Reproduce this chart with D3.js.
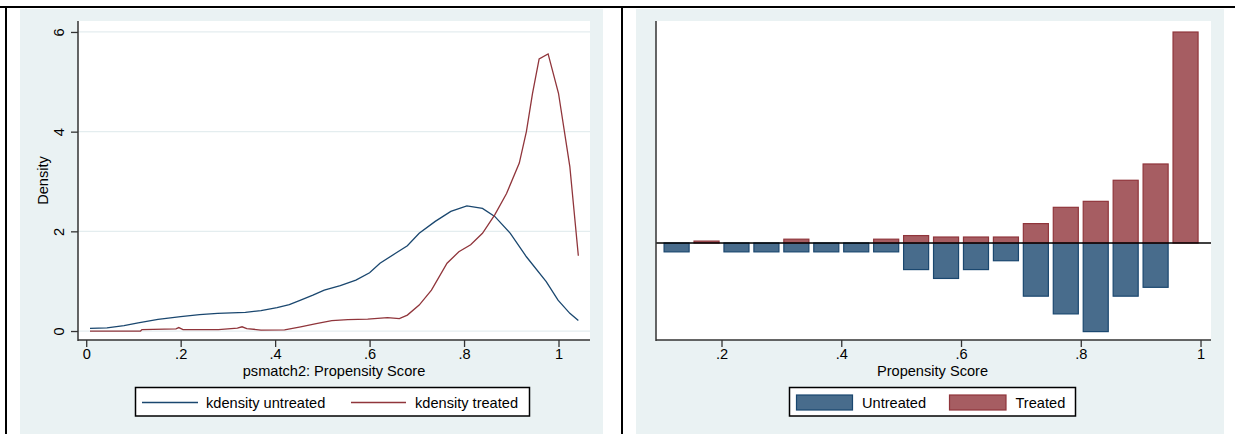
<!DOCTYPE html>
<html>
<head>
<meta charset="utf-8">
<script src="https://cdn.jsdelivr.net/npm/d3@7"></script>
<style>
  html, body { margin: 0; padding: 0; background: #ffffff; }
  svg { display: block; }
  text { font-family: "Liberation Sans", Arial, sans-serif; fill: #000; }
</style>
</head>
<body>
<svg id="chart" width="1235" height="434"></svg>
<script>
// ---------- DATA ----------
// Left panel: kernel densities of propensity score
const untreatedX = [0.008,0.044,0.08,0.11,0.152,0.2,0.24,0.278,0.337,0.37,0.404,0.43,0.454,0.48,0.504,0.538,0.571,0.6,0.622,0.655,0.68,0.705,0.739,0.772,0.806,0.839,0.865,0.898,0.932,0.974,0.999,1.024,1.042];
const untreatedY = [0.055,0.065,0.11,0.165,0.235,0.29,0.33,0.355,0.375,0.41,0.47,0.53,0.62,0.72,0.82,0.91,1.02,1.17,1.36,1.56,1.71,1.96,2.2,2.4,2.51,2.46,2.3,1.96,1.49,0.99,0.62,0.355,0.21];
const treatedX = [0.008,0.115,0.118,0.19,0.196,0.205,0.28,0.32,0.33,0.34,0.37,0.42,0.454,0.487,0.52,0.554,0.596,0.638,0.663,0.68,0.705,0.731,0.764,0.789,0.814,0.839,0.865,0.89,0.917,0.932,0.945,0.959,0.978,1.0,1.024,1.042];
const treatedY = [0,0,0.03,0.045,0.07,0.03,0.03,0.06,0.085,0.05,0.02,0.025,0.085,0.15,0.21,0.23,0.24,0.27,0.25,0.32,0.52,0.82,1.36,1.59,1.73,1.96,2.33,2.76,3.37,4.0,4.77,5.46,5.56,4.77,3.3,1.51];
const densityTicks = [0, 2, 4, 6];
const densityXTicks = [0, 0.2, 0.4, 0.6, 0.8, 1];
const densityXTickLabels = ["0", ".2", ".4", ".6", ".8", "1"];

// Right panel: histogram (density) by bin midpoint, untreated drawn below zero
const binMid = [0.125,0.175,0.225,0.275,0.325,0.375,0.425,0.475,0.525,0.575,0.625,0.675,0.725,0.775,0.825,0.875,0.925,0.975];
const treatedHist = [0,0.08,0,0,0.16,0,0,0.16,0.31,0.25,0.25,0.25,0.81,1.49,1.74,2.62,3.30,8.81];
const untreatedHist = [0.37,0,0.37,0.37,0.37,0.37,0.37,0.37,1.11,1.48,1.11,0.74,2.22,2.96,3.70,2.22,1.85,0];
const histXTicks = [0.2, 0.4, 0.6, 0.8, 1];
const histXTickLabels = [".2", ".4", ".6", ".8", "1"];
const binWidth = 0.05;

// Text
const leftXTitle = "psmatch2: Propensity Score";
const leftYTitle = "Density";
const leftLegend = ["kdensity untreated", "kdensity treated"];
const rightXTitle = "Propensity Score";
const rightLegend = ["Untreated", "Treated"];

// ---------- STYLE ----------
const BG = "#EAF2F3";
const NAVY = "#1A476F", MAROON = "#90353B";
const NAVY_FILL = "#486C8C", MAROON_FILL = "#A65D62";
const FS = "14.6px";

const svg = d3.select("#chart");

// Outer frame
svg.append("rect").attr("x", 0).attr("y", 0).attr("width", 1235).attr("height", 434).attr("fill", "#fff");
svg.append("rect").attr("x", 20).attr("y", 9).attr("width", 583).attr("height", 425).attr("fill", BG);
svg.append("rect").attr("x", 636).attr("y", 9).attr("width", 588).attr("height", 425).attr("fill", BG);
svg.append("line").attr("x1", 0).attr("x2", 1235).attr("y1", 7).attr("y2", 7).attr("stroke", "#000").attr("stroke-width", 2);
svg.append("line").attr("x1", 6).attr("x2", 6).attr("y1", 6).attr("y2", 434).attr("stroke", "#000").attr("stroke-width", 2);
svg.append("line").attr("x1", 622).attr("x2", 622).attr("y1", 6).attr("y2", 434).attr("stroke", "#000").attr("stroke-width", 2);

// ---------- LEFT PANEL ----------
(function () {
  const L = 78, R = 590, T = 21, B = 340;
  const x = d3.scaleLinear().domain([-0.0174, 1.0667]).range([L, R]);
  const y = d3.scaleLinear().domain([-0.18, 6.22]).range([B, T]);
  const g = svg.append("g");
  g.append("rect").attr("x", L).attr("y", T).attr("width", R - L).attr("height", B - T).attr("fill", "#fff");
  // gridlines
  g.selectAll(".grid").data(densityTicks).join("line")
    .attr("x1", L).attr("x2", R).attr("y1", d => y(d)).attr("y2", d => y(d))
    .attr("stroke", "#E4EDEF").attr("stroke-width", 1.2);

  // y axis
  const ya = g.append("g").attr("transform", `translate(${L},0)`)
    .call(d3.axisLeft(y).tickValues(densityTicks).tickSize(7).tickFormat(d3.format("d")));
  ya.select(".domain").attr("d", `M0,${T}V${B + 1}`).attr("stroke", "#333").attr("stroke-width", 1.5);
  ya.selectAll(".tick line").attr("stroke", "#333").attr("stroke-width", 1.3);
  ya.selectAll(".tick text").attr("x", null).attr("dy", null)
    .attr("text-anchor", "middle")
    .attr("transform", "translate(-14,0) rotate(-90)")
    .style("font-size", FS).style("font-family", "Liberation Sans, Arial, sans-serif").attr("fill", "#000");

  // x axis
  const xa = g.append("g").attr("transform", `translate(0,${B})`)
    .call(d3.axisBottom(x).tickValues(densityXTicks).tickSize(7).tickFormat((d, i) => densityXTickLabels[i]));
  xa.select(".domain").attr("d", `M${L},0H${R}`).attr("stroke", "#333").attr("stroke-width", 1.5);
  xa.selectAll(".tick line").attr("stroke", "#333").attr("stroke-width", 1.3);
  xa.selectAll(".tick text").attr("y", 18.5).attr("dy", null)
    .style("font-size", FS).style("font-family", "Liberation Sans, Arial, sans-serif").attr("fill", "#000");

  // titles
  g.append("text").attr("x", (L + R) / 2).attr("y", 376).attr("text-anchor", "middle")
    .style("font-size", FS).text(leftXTitle);
  g.append("text").attr("transform", `translate(48,${(T + B) / 2}) rotate(-90)`).attr("text-anchor", "middle")
    .style("font-size", FS).text(leftYTitle);

  // curves
  const line = d3.line().x(d => x(d[0])).y(d => y(d[1]));
  const uData = untreatedX.map((v, i) => [v, untreatedY[i]]);
  const tData = treatedX.map((v, i) => [v, treatedY[i]]);
  g.append("path").datum(uData).attr("d", line).attr("fill", "none").attr("stroke", NAVY).attr("stroke-width", 1.3);
  g.append("path").datum(tData).attr("d", line).attr("fill", "none").attr("stroke", MAROON).attr("stroke-width", 1.3);

  // legend
  const lg = g.append("g");
  lg.append("rect").attr("x", 135.5).attr("y", 387.5).attr("width", 394).attr("height", 28.5)
    .attr("fill", "#fff").attr("stroke", "#000").attr("stroke-width", 1.5);
  lg.append("line").attr("x1", 142).attr("x2", 198).attr("y1", 402.5).attr("y2", 402.5).attr("stroke", NAVY).attr("stroke-width", 1.3);
  lg.append("text").attr("x", 206).attr("y", 407.8).style("font-size", FS).text(leftLegend[0]);
  lg.append("line").attr("x1", 351).attr("x2", 406).attr("y1", 402.5).attr("y2", 402.5).attr("stroke", MAROON).attr("stroke-width", 1.3);
  lg.append("text").attr("x", 415).attr("y", 407.8).style("font-size", FS).text(leftLegend[1]);
})();

// ---------- RIGHT PANEL ----------
(function () {
  const L = 656, R = 1211, T = 21, B = 340;
  const x = d3.scaleLinear().domain([0.0906, 1.0175]).range([L, R]);
  const y = d3.scaleLinear().domain([-4.05, 9.27]).range([B, T]);
  const g = svg.append("g");
  g.append("rect").attr("x", L).attr("y", T).attr("width", R - L).attr("height", B - T).attr("fill", "#fff");

  const barW = x(0.0418) - x(0);
  const bins = binMid.map((m, i) => ({ m, t: treatedHist[i], u: untreatedHist[i] }));

  // untreated (below zero)
  g.selectAll(".ub").data(bins.filter(d => d.u > 0)).join("rect")
    .attr("x", d => x(d.m) - barW / 2).attr("width", barW)
    .attr("y", y(0)).attr("height", d => y(-d.u) - y(0))
    .attr("fill", NAVY_FILL).attr("stroke", NAVY).attr("stroke-width", 1.2);
  // treated (above zero)
  g.selectAll(".tb").data(bins.filter(d => d.t > 0)).join("rect")
    .attr("x", d => x(d.m) - barW / 2).attr("width", barW)
    .attr("y", d => y(d.t)).attr("height", d => y(0) - y(d.t))
    .attr("fill", MAROON_FILL).attr("stroke", MAROON).attr("stroke-width", 1.2);

  // zero line
  g.append("line").attr("x1", L).attr("x2", R).attr("y1", y(0)).attr("y2", y(0))
    .attr("stroke", "#000").attr("stroke-width", 1.5);

  // y axis line (no ticks)
  g.append("line").attr("x1", L).attr("x2", L).attr("y1", T).attr("y2", B + 1)
    .attr("stroke", "#333").attr("stroke-width", 1.5);

  // x axis
  const xa = g.append("g").attr("transform", `translate(0,${B})`)
    .call(d3.axisBottom(x).tickValues(histXTicks).tickSize(7).tickFormat((d, i) => histXTickLabels[i]));
  xa.select(".domain").attr("d", `M${L},0H${R}`).attr("stroke", "#333").attr("stroke-width", 1.5);
  xa.selectAll(".tick line").attr("stroke", "#333").attr("stroke-width", 1.3);
  xa.selectAll(".tick text").attr("y", 18.5).attr("dy", null)
    .style("font-size", FS).style("font-family", "Liberation Sans, Arial, sans-serif").attr("fill", "#000");

  g.append("text").attr("x", (L + R) / 2 - 1).attr("y", 376).attr("text-anchor", "middle")
    .style("font-size", FS).text(rightXTitle);

  // legend
  const lg = g.append("g");
  lg.append("rect").attr("x", 789.5).attr("y", 387.5).attr("width", 286).attr("height", 28.5)
    .attr("fill", "#fff").attr("stroke", "#000").attr("stroke-width", 1.5);
  lg.append("rect").attr("x", 796.5).attr("y", 395).attr("width", 56).attr("height", 15)
    .attr("fill", NAVY_FILL).attr("stroke", NAVY).attr("stroke-width", 1.2);
  lg.append("text").attr("x", 862).attr("y", 407.8).style("font-size", FS).text(rightLegend[0]);
  lg.append("rect").attr("x", 949.5).attr("y", 395).attr("width", 56.5).attr("height", 15)
    .attr("fill", MAROON_FILL).attr("stroke", MAROON).attr("stroke-width", 1.2);
  lg.append("text").attr("x", 1015.5).attr("y", 407.8).style("font-size", FS).text(rightLegend[1]);
})();
</script>
</body>
</html>
